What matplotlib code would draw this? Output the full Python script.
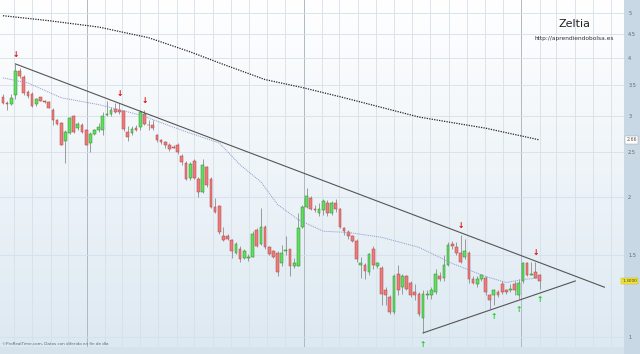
import numpy as np
import pandas as pd
import matplotlib
matplotlib.use('Agg')
import matplotlib.pyplot as plt
import matplotlib.dates as mdates
from matplotlib.patches import Rectangle
from matplotlib.ticker import FixedLocator, FixedFormatter, NullLocator

# --- Weekly candles, prices ---
start_week = '2010-08-13'
opens = [3.30, 3.19, 3.18, 3.32, 3.75, 3.63, 3.37, 3.34, 3.18, 3.29,
         3.22, 3.21, 3.09, 2.93, 2.89, 2.64, 2.75, 3.00, 2.82, 2.87,
         2.79, 2.62, 2.74, 2.79, 2.79, 3.01, 3.02, 3.10, 3.08, 3.07,
         2.76, 2.75, 2.82, 2.83, 3.03, 2.87, 2.86, 2.73, 2.66, 2.63,
         2.60, 2.57, 2.59, 2.46, 2.37, 2.20, 2.40, 2.19, 2.05, 2.33,
         2.19, 1.91, 1.92, 1.65, 1.65, 1.62, 1.52, 1.55, 1.48, 1.48,
         1.49, 1.70, 1.59, 1.73, 1.56, 1.53, 1.52, 1.44, 1.53, 1.55,
         1.42, 1.42, 1.73, 1.91, 1.99, 1.89, 1.85, 1.88, 1.94, 1.85,
         1.94, 1.89, 1.72, 1.68, 1.65, 1.61, 1.43, 1.43, 1.38, 1.55,
         1.42, 1.41, 1.26, 1.22, 1.13, 1.37, 1.28, 1.35, 1.31, 1.25,
         1.24, 1.10, 1.23, 1.23, 1.25, 1.35, 1.34, 1.43, 1.59, 1.56,
         1.52, 1.49, 1.52, 1.33, 1.30, 1.33, 1.34, 1.23, 1.23, 1.25,
         1.30, 1.26, 1.26, 1.30, 1.23, 1.32, 1.44, 1.36, 1.38, 1.36]
highs = [3.34, 3.22, 3.34, 3.88, 3.81, 3.68, 3.41, 3.37, 3.28, 3.30,
         3.24, 3.23, 3.12, 2.95, 2.91, 2.79, 2.98, 3.01, 2.91, 2.89,
         2.81, 2.76, 2.81, 2.89, 3.06, 3.22, 3.14, 3.19, 3.19, 3.08,
         2.85, 2.85, 2.87, 3.09, 3.09, 2.94, 2.94, 2.74, 2.67, 2.65,
         2.62, 2.60, 2.62, 2.48, 2.39, 2.38, 2.42, 2.21, 2.42, 2.34,
         2.21, 1.99, 1.93, 1.73, 1.67, 1.63, 1.60, 1.57, 1.55, 1.51,
         1.69, 1.72, 1.90, 1.74, 1.57, 1.54, 1.53, 1.58, 1.65, 1.55,
         1.48, 1.85, 1.93, 2.09, 2.01, 1.93, 1.94, 1.98, 1.97, 1.96,
         1.98, 1.90, 1.73, 1.70, 1.66, 1.63, 1.49, 1.44, 1.52, 1.57,
         1.45, 1.42, 1.28, 1.23, 1.37, 1.43, 1.37, 1.36, 1.32, 1.30,
         1.25, 1.26, 1.26, 1.28, 1.40, 1.38, 1.50, 1.60, 1.61, 1.60,
         1.66, 1.63, 1.53, 1.35, 1.35, 1.37, 1.35, 1.24, 1.27, 1.26,
         1.32, 1.27, 1.30, 1.32, 1.33, 1.45, 1.45, 1.45, 1.45, 1.37]
lows = [3.18, 3.09, 3.17, 3.26, 3.62, 3.33, 3.28, 3.14, 3.15, 3.22,
        3.19, 3.11, 2.86, 2.86, 2.59, 2.37, 2.74, 2.75, 2.80, 2.75,
        2.59, 2.51, 2.73, 2.77, 2.72, 2.99, 3.00, 3.04, 3.02, 2.78,
        2.64, 2.73, 2.78, 2.80, 2.86, 2.80, 2.80, 2.63, 2.61, 2.56,
        2.52, 2.56, 2.48, 2.35, 2.18, 2.18, 2.19, 2.00, 2.04, 2.11,
        1.90, 1.85, 1.67, 1.61, 1.62, 1.48, 1.51, 1.45, 1.47, 1.46,
        1.49, 1.56, 1.58, 1.55, 1.50, 1.48, 1.35, 1.42, 1.50, 1.35,
        1.41, 1.42, 1.72, 1.90, 1.88, 1.86, 1.82, 1.83, 1.82, 1.83,
        1.86, 1.72, 1.66, 1.63, 1.60, 1.45, 1.34, 1.33, 1.36, 1.40,
        1.41, 1.17, 1.17, 1.12, 1.12, 1.23, 1.24, 1.26, 1.22, 1.20,
        1.11, 1.02, 1.21, 1.21, 1.24, 1.32, 1.32, 1.42, 1.55, 1.50,
        1.44, 1.47, 1.31, 1.30, 1.28, 1.32, 1.23, 1.15, 1.17, 1.22,
        1.24, 1.24, 1.25, 1.23, 1.21, 1.31, 1.35, 1.36, 1.34, 1.27]
closes = [3.19, 3.18, 3.28, 3.75, 3.66, 3.35, 3.31, 3.15, 3.26, 3.23,
          3.21, 3.12, 2.93, 2.88, 2.60, 2.77, 2.96, 2.77, 2.88, 2.77,
          2.60, 2.74, 2.79, 2.83, 3.00, 3.02, 3.09, 3.05, 3.06, 2.81,
          2.70, 2.81, 2.79, 3.05, 2.88, 2.86, 2.82, 2.66, 2.63, 2.59,
          2.54, 2.56, 2.50, 2.38, 2.19, 2.36, 2.20, 2.05, 2.35, 2.13,
          1.91, 1.86, 1.68, 1.62, 1.63, 1.53, 1.59, 1.47, 1.53, 1.49,
          1.67, 1.57, 1.73, 1.56, 1.51, 1.49, 1.38, 1.52, 1.54, 1.42,
          1.44, 1.72, 1.91, 2.01, 1.89, 1.88, 1.89, 1.96, 1.85, 1.94,
          1.89, 1.73, 1.69, 1.65, 1.61, 1.47, 1.44, 1.39, 1.51, 1.43,
          1.44, 1.24, 1.23, 1.13, 1.35, 1.26, 1.35, 1.27, 1.23, 1.23,
          1.12, 1.24, 1.24, 1.26, 1.37, 1.33, 1.43, 1.58, 1.57, 1.52,
          1.45, 1.53, 1.33, 1.31, 1.33, 1.36, 1.25, 1.20, 1.26, 1.23,
          1.25, 1.25, 1.27, 1.26, 1.31, 1.44, 1.36, 1.37, 1.34, 1.32]

# Moving averages, read at some candles
ma_long_idx = [0, 11, 23, 35, 45, 52, 63, 72, 82, 100, 116, 129]
ma_long = [4.93, 4.81, 4.66, 4.42, 4.12, 3.90, 3.59, 3.45, 3.28, 2.98, 2.82, 2.66]
ma_short_idx = [0, 6, 14, 23, 33, 44, 52, 57, 62, 66, 71, 77, 83, 91, 100,
                108, 116, 121, 125, 129]
ma_short = [3.62, 3.53, 3.28, 3.17, 3.01, 2.77, 2.62, 2.35, 2.16, 1.93, 1.79,
            1.69, 1.68, 1.64, 1.56, 1.44, 1.35, 1.31, 1.33, 1.34]

# Trend lines (date, price)
res_dates = ['2010-09-03', '2013-05-21']
res_prices = [3.88, 1.28]
sup_dates = ['2012-07-20', '2013-04-02']
sup_prices = [1.02, 1.32]

# Signal arrows (candle index)
sell_marks = [3, 28, 34, 110, 128]
buy_marks = [101, 118, 124, 129]

price_ticks = [1, 1.5, 2, 2.5, 3, 3.5, 4, 4.5, 5]
price_labels = ['1', '1.5', '2', '2.5', '3', '3.5', '4', '4.5', '5']
month_labels = ['sep', 'oct', 'nov', 'dic',
                '2011', 'feb', 'mar', 'abr', 'may', 'jun', 'jul', 'ago', 'sep', 'oct', 'nov', 'dic',
                '2012', 'feb', 'mar', 'abr', 'may', 'jun', 'jul', 'ago', 'sep', 'oct', 'nov', 'dic',
                '2013', 'feb', 'mar', 'abr', 'may', 'jun']

dates = pd.date_range(start_week, periods=len(opens), freq='7D')
x = mdates.date2num(dates)
opens, highs, lows, closes = map(np.array, (opens, highs, lows, closes))

# --- Figure ---
W, H = 640, 354
fig = plt.figure(figsize=(W / 100, H / 100), dpi=100)
fig.patch.set_facecolor('#c8d8e4')
fig.patches.append(Rectangle((0, 0), 624 / W, 7 / H, transform=fig.transFigure,
                             facecolor='#d7e3ec', edgecolor='none', zorder=0))

pos = [0, 7 / H, 624 / W, 347 / H]
bg = fig.add_axes(pos)
grad = np.linspace(0, 1, 256).reshape(-1, 1)
bg.imshow(grad, extent=[0, 1, 0, 1], aspect='auto', origin='lower',
          cmap=matplotlib.colors.LinearSegmentedColormap.from_list('bg', ['#dde9f2', '#ffffff']))
bg.axis('off')

ax = fig.add_axes(pos)
ax.patch.set_alpha(0)
ax.set_yscale('log')
ax.set_ylim(0.951, 5.33)
ax.set_xlim(mdates.date2num(pd.Timestamp('2010-08-08')), mdates.date2num(pd.Timestamp('2013-06-23')))

# grid
month_pos = mdates.date2num(pd.date_range('2010-09-01', periods=len(month_labels), freq='MS'))
ax.set_xticks(month_pos)
ax.set_xticklabels(month_labels)
for lbl, p in zip(month_labels, month_pos):
    yr = lbl.isdigit()
    ax.axvline(p, color='#aeb9c3' if yr else '#d6e0e8', lw=0.7 if yr else 0.6, zorder=1)
ax.yaxis.set_major_locator(FixedLocator(price_ticks))
ax.yaxis.set_major_formatter(FixedFormatter(price_labels))
ax.yaxis.set_minor_locator(NullLocator())
for p in price_ticks:
    ax.axhline(p, color='#d6e0e8', lw=0.6, zorder=1)

ax.yaxis.tick_right()
ax.tick_params(axis='y', length=0, pad=3, labelsize=3.6, labelcolor='#666666')
ax.tick_params(axis='x', length=0, pad=1.0, labelsize=3.6, labelcolor='#666666')
for t, lbl in zip(ax.get_xticklabels(), month_labels):
    if lbl.isdigit():
        t.set_color('#333333')
for s in ax.spines.values():
    s.set_visible(False)

# candles
up = closes >= opens
ax.vlines(x, lows, highs, color='#8c8c8c', lw=0.6, zorder=2)
body_lo = np.minimum(opens, closes)
body_h = np.maximum(np.abs(closes - opens), 0.004)
ax.bar(x[up], body_h[up], bottom=body_lo[up], width=4.6,
       color='#5fe05f', edgecolor='#2e8a2e', lw=0.35, zorder=3)
ax.bar(x[~up], body_h[~up], bottom=body_lo[~up], width=4.6,
       color='#ec7b7b', edgecolor='#b04848', lw=0.35, zorder=3)

# moving averages
ax.plot(x[ma_long_idx], ma_long, color='#222222', lw=0.9, ls=(0, (1, 1)), zorder=4)
ax.plot(x[ma_short_idx], ma_short, color='#8c98cc', lw=0.7, ls=(0, (1, 1)), zorder=4)

# trend lines
ax.plot(mdates.date2num(pd.to_datetime(res_dates)), res_prices, color='#555555', lw=0.8, zorder=5)
ax.plot(mdates.date2num(pd.to_datetime(sup_dates)), sup_prices, color='#555555', lw=0.8, zorder=5)

# signal arrows
for i in sell_marks:
    ax.annotate('\u2193', xy=(x[i], highs[i]), xytext=(0, 7), textcoords='offset points',
                ha='center', va='center', color='#e00000', fontsize=5.5, fontweight='bold', zorder=6)
for i in buy_marks:
    ax.annotate('\u2191', xy=(x[i], lows[i]), xytext=(0, -8), textcoords='offset points',
                ha='center', va='center', color='#22cc22', fontsize=5.5, fontweight='bold', zorder=6)

# right side value boxes
ytr = ax.get_yaxis_transform()
ax.text(1.004, ma_long[-1], '%.2f' % ma_long[-1], transform=ytr, ha='left', va='center',
        fontsize=3.4, color='#555555', clip_on=False,
        bbox=dict(boxstyle='square,pad=0.25', facecolor='white', edgecolor='#999999', lw=0.3))
ax.text(0.997, closes[-1], '1.3000', transform=ytr, ha='left', va='center',
        fontsize=3.1, color='#333333', clip_on=False,
        bbox=dict(boxstyle='square,pad=0.2', facecolor='#f2e33c', edgecolor='#c9b400', lw=0.3))

# watermark texts
ax.text(0.92, 0.93, 'Zeltia', transform=ax.transAxes, ha='center', va='center',
        fontsize=8, color='#222222', family='DejaVu Sans')
ax.text(0.92, 0.888, 'http://aprendiendobolsa.es', transform=ax.transAxes, ha='center', va='center',
        fontsize=4.2, color='#333333')
ax.text(0.003, 0.004, '\u00a9ProRealTime.com, Datos con diferido en fin de d\u00eda',
        transform=ax.transAxes, ha='left', va='bottom', fontsize=3, color='#666666')

fig.savefig('out.png', dpi=100, facecolor=fig.get_facecolor())
